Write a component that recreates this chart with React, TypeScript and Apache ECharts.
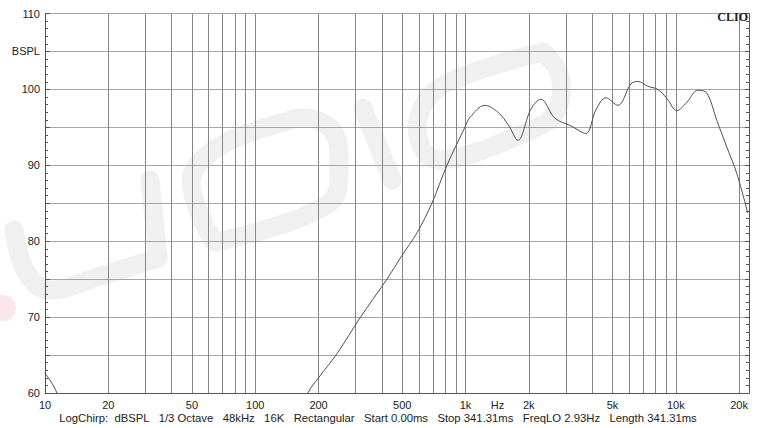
import React, { useEffect, useRef } from "react";
import * as echarts from "echarts";

// Frequency response curve (Hz, dB SPL)
const freqHz = [
  10, 10.56, 11.04, 11.4, 12.5, 170, 178, 200, 245, 315, 423, 498, 588, 692, 816,
  993, 1049, 1236, 1426, 1600, 1775, 2046, 2281, 2661, 3170, 3733, 4169, 4653, 5305,
  6113, 6601, 7367, 8222, 9078, 10120, 11290, 12740, 14070, 15680, 17490, 19520, 22000,
];
const splDb = [
  62.6, 61.7, 60.8, 60.0, 57.5, 57.5, 60.0, 62.0, 65.2, 69.9, 75.0, 78.1, 81.1, 85.0, 90.0,
  95.0, 96.3, 97.9, 97.0, 95.3, 93.3, 97.4, 98.7, 96.2, 95.2, 94.2, 97.3, 98.9, 97.9,
  100.7, 101.05, 100.4, 100.0, 98.8, 97.2, 98.3, 99.9, 99.5, 95.9, 92.4, 88.9, 83.7,
];

// Axis definitions
const freqMin = 10;
const freqMax = 22300;
const gridFreqs = [
  10, 20, 30, 40, 50, 60, 70, 80, 90, 100, 200, 300, 400, 500, 600, 700, 800, 900,
  1000, 2000, 3000, 4000, 5000, 6000, 7000, 8000, 9000, 10000, 20000,
];
const xLabelFreqs = [10, 20, 50, 100, 200, 500, 1000, 1420, 2000, 5000, 10000, 20000];
const xLabelTexts = ["10", "20", "50", "100", "200", "500", "1k", "Hz", "2k", "5k", "10k", "20k"];
const yMin = 60;
const yMax = 110;
const yStep = 5;
const yUnitLabel = "BSPL";
const yUnitValue = 105;

const footerText =
  "LogChirp:  dBSPL   1/3 Octave   48kHz   16K   Rectangular   Start 0.00ms   Stop 341.31ms   FreqLO 2.93Hz   Length 341.31ms";
const brandText = "CLIO";

const FONT = '"Liberation Sans", Arial, sans-serif';
const VGRID_COLOR = "#868686";
const HGRID_COLOR = "#a6a6a6";
const AXIS_COLOR = "#555";
const WM = "#f0f0f0";

export default function App() {
  const ref = useRef<HTMLDivElement>(null);

  useEffect(() => {
    if (!ref.current) return;
    const chart = echarts.init(ref.current, null, { renderer: "svg" });
    const logGrid = gridFreqs.map((f) => Math.log10(f));
    const logLabels = xLabelFreqs.map((f) => Math.log10(f));

    const wmStroke = (points: number[][]) => ({
      type: "polyline",
      z: -10,
      silent: true,
      shape: { points, smooth: 0.4 },
      style: { stroke: WM, lineWidth: 19, lineCap: "round", lineJoin: "round", fill: null },
    });

    const option: any = {
      animation: false,
      backgroundColor: "#fff",
      grid: { left: 45, right: 9, top: 13.5, bottom: 35, containLabel: false },
      xAxis: [
        { type: "log", logBase: 10, min: freqMin, max: freqMax, show: false },
        {
          type: "value",
          min: 1,
          max: Math.log10(freqMax),
          position: "bottom",
          axisLine: { show: true, lineStyle: { color: AXIS_COLOR, width: 1 } },
          axisTick: { show: false, customValues: logGrid },
          splitLine: { show: true, lineStyle: { color: VGRID_COLOR, width: 1 } },
          axisLabel: {
            customValues: logLabels,
            color: "#222",
            fontFamily: FONT,
            fontSize: 11,
            margin: 6,
            formatter: (v: number) => {
              let best = 0;
              let bd = Infinity;
              logLabels.forEach((l, i) => {
                const d = Math.abs(l - v);
                if (d < bd) {
                  bd = d;
                  best = i;
                }
              });
              return xLabelTexts[best];
            },
          },
        },
      ],
      yAxis: [
        {
          type: "value",
          min: yMin,
          max: yMax,
          interval: yStep,
          position: "left",
          axisLine: { show: true, lineStyle: { color: AXIS_COLOR } },
          axisTick: { show: true, inside: true, length: 5, lineStyle: { color: AXIS_COLOR } },
          minorTick: { show: true, splitNumber: 5, length: 3, lineStyle: { color: AXIS_COLOR } },
          splitLine: { show: true, lineStyle: { color: HGRID_COLOR, width: 1.2 } },
          axisLabel: {
            color: "#222",
            fontFamily: FONT,
            fontSize: 11,
            margin: 5,
            formatter: (v: number) =>
              v === yUnitValue ? yUnitLabel : v % 10 === 0 ? String(v) : "",
          },
        },
        {
          type: "value",
          min: yMin,
          max: yMax,
          interval: yStep,
          position: "right",
          axisLine: { show: true, lineStyle: { color: AXIS_COLOR } },
          axisTick: { show: true, inside: true, length: 4, lineStyle: { color: AXIS_COLOR } },
          minorTick: { show: true, splitNumber: 5, length: 3, lineStyle: { color: AXIS_COLOR } },
          splitLine: { show: false },
          axisLabel: { show: false },
        },
      ],
      series: [
        {
          type: "line",
          xAxisIndex: 0,
          yAxisIndex: 0,
          data: freqHz.map((f, i) => [f, splDb[i]]),
          symbol: "none",
          smooth: 0.35,
          clip: true,
          lineStyle: { color: "#505050", width: 1 },
          z: 5,
        },
      ],
      graphic: [
        {
          type: "circle",
          z: -10,
          silent: true,
          shape: { cx: 3, cy: 308, r: 13 },
          style: { fill: "#fde6e9" },
        },
        wmStroke([
          [14, 230],
          [26, 272],
          [48, 290],
          [100, 276],
          [158, 258],
        ]),
        wmStroke([
          [158, 258],
          [150, 180],
        ]),
        wmStroke([
          [214, 242],
          [194, 170],
          [290, 120],
          [330, 128],
          [339, 162],
          [328, 204],
          [214, 242],
        ]),
        wmStroke([
          [363, 108],
          [392, 180],
        ]),
        wmStroke([
          [543, 52],
          [449, 82],
          [421, 110],
          [422, 148],
          [445, 160],
          [531, 130],
          [556, 112],
          [560, 76],
          [543, 52],
        ]),
        {
          type: "text",
          z: 10,
          style: {
            text: footerText,
            x: 378,
            y: 418,
            align: "center",
            verticalAlign: "middle",
            font: `11.3px ${FONT}`,
            fill: "#222",
          },
        },
        {
          type: "text",
          z: 10,
          style: {
            text: brandText,
            x: 748,
            y: 17,
            align: "right",
            verticalAlign: "middle",
            font: 'bold 12px "Liberation Serif", serif',
            fill: "#222",
          },
        },
      ],
    };
    chart.setOption(option);
    return () => chart.dispose();
  }, []);

  return (
    <div
      ref={ref}
      style={{ position: "absolute", left: 0, top: 0, width: 758, height: 428 }}
    />
  );
}
